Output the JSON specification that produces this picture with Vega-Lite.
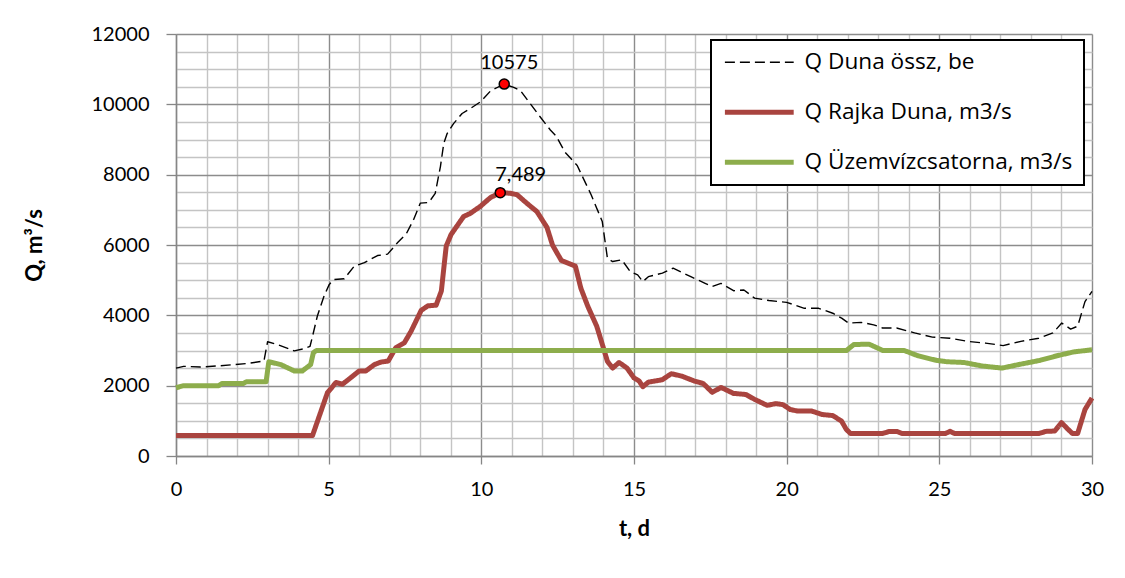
{
  "$schema": "https://vega.github.io/schema/vega-lite/v6.json",
  "width": 916,
  "height": 422,
  "autosize": "none",
  "padding": {"left": 176, "top": 34, "right": 33, "bottom": 122},
  "background": "white",
  "config": {
    "view": {"stroke": null},
    "font": "Lato",
    "legend": {"strokeWidth": 2}
  },
  "datasets": {
    "lines": [
      {"t": 0, "q": 2500, "s": "Q Duna össz, be"},
      {"t": 0.25, "q": 2550, "s": "Q Duna össz, be"},
      {"t": 0.8, "q": 2530, "s": "Q Duna össz, be"},
      {"t": 1.35, "q": 2560, "s": "Q Duna össz, be"},
      {"t": 1.9, "q": 2600, "s": "Q Duna össz, be"},
      {"t": 2.33, "q": 2630, "s": "Q Duna össz, be"},
      {"t": 2.88, "q": 2700, "s": "Q Duna össz, be"},
      {"t": 3.0, "q": 3250, "s": "Q Duna össz, be"},
      {"t": 3.32, "q": 3170, "s": "Q Duna össz, be"},
      {"t": 3.87, "q": 2990, "s": "Q Duna össz, be"},
      {"t": 4.19, "q": 3050, "s": "Q Duna össz, be"},
      {"t": 4.39, "q": 3120, "s": "Q Duna össz, be"},
      {"t": 4.47, "q": 3400, "s": "Q Duna össz, be"},
      {"t": 4.63, "q": 3980, "s": "Q Duna össz, be"},
      {"t": 4.85, "q": 4550, "s": "Q Duna össz, be"},
      {"t": 5.02, "q": 4880, "s": "Q Duna össz, be"},
      {"t": 5.18, "q": 5020, "s": "Q Duna össz, be"},
      {"t": 5.51, "q": 5040, "s": "Q Duna össz, be"},
      {"t": 5.84, "q": 5400, "s": "Q Duna össz, be"},
      {"t": 6.17, "q": 5500, "s": "Q Duna össz, be"},
      {"t": 6.6, "q": 5700, "s": "Q Duna össz, be"},
      {"t": 6.93, "q": 5740, "s": "Q Duna össz, be"},
      {"t": 7.26, "q": 6070, "s": "Q Duna össz, be"},
      {"t": 7.55, "q": 6330, "s": "Q Duna össz, be"},
      {"t": 7.78, "q": 6720, "s": "Q Duna össz, be"},
      {"t": 8.0, "q": 7190, "s": "Q Duna össz, be"},
      {"t": 8.28, "q": 7210, "s": "Q Duna össz, be"},
      {"t": 8.49, "q": 7470, "s": "Q Duna össz, be"},
      {"t": 8.66, "q": 8230, "s": "Q Duna össz, be"},
      {"t": 8.77, "q": 8890, "s": "Q Duna össz, be"},
      {"t": 8.88, "q": 9170, "s": "Q Duna össz, be"},
      {"t": 9.09, "q": 9450, "s": "Q Duna össz, be"},
      {"t": 9.37, "q": 9740, "s": "Q Duna össz, be"},
      {"t": 9.64, "q": 9880, "s": "Q Duna össz, be"},
      {"t": 9.97, "q": 10070, "s": "Q Duna össz, be"},
      {"t": 10.3, "q": 10380, "s": "Q Duna össz, be"},
      {"t": 10.57, "q": 10500, "s": "Q Duna össz, be"},
      {"t": 10.75, "q": 10575, "s": "Q Duna össz, be"},
      {"t": 11.06, "q": 10480, "s": "Q Duna össz, be"},
      {"t": 11.28, "q": 10390, "s": "Q Duna össz, be"},
      {"t": 11.6, "q": 10020, "s": "Q Duna össz, be"},
      {"t": 11.93, "q": 9640, "s": "Q Duna össz, be"},
      {"t": 12.26, "q": 9270, "s": "Q Duna össz, be"},
      {"t": 12.45, "q": 9100, "s": "Q Duna össz, be"},
      {"t": 12.74, "q": 8640, "s": "Q Duna össz, be"},
      {"t": 13.14, "q": 8260, "s": "Q Duna össz, be"},
      {"t": 13.6, "q": 7420, "s": "Q Duna össz, be"},
      {"t": 13.96, "q": 6670, "s": "Q Duna össz, be"},
      {"t": 14.13, "q": 5620, "s": "Q Duna össz, be"},
      {"t": 14.3, "q": 5530, "s": "Q Duna össz, be"},
      {"t": 14.6, "q": 5580, "s": "Q Duna össz, be"},
      {"t": 14.88, "q": 5240, "s": "Q Duna össz, be"},
      {"t": 15.12, "q": 5150, "s": "Q Duna össz, be"},
      {"t": 15.29, "q": 4960, "s": "Q Duna össz, be"},
      {"t": 15.47, "q": 5100, "s": "Q Duna össz, be"},
      {"t": 15.93, "q": 5200, "s": "Q Duna össz, be"},
      {"t": 16.28, "q": 5340, "s": "Q Duna össz, be"},
      {"t": 16.86, "q": 5100, "s": "Q Duna össz, be"},
      {"t": 17.33, "q": 4910, "s": "Q Duna össz, be"},
      {"t": 17.56, "q": 4820, "s": "Q Duna össz, be"},
      {"t": 17.85, "q": 4910, "s": "Q Duna össz, be"},
      {"t": 18.26, "q": 4700, "s": "Q Duna össz, be"},
      {"t": 18.6, "q": 4720, "s": "Q Duna össz, be"},
      {"t": 18.95, "q": 4490, "s": "Q Duna össz, be"},
      {"t": 19.42, "q": 4420, "s": "Q Duna össz, be"},
      {"t": 20.0, "q": 4370, "s": "Q Duna össz, be"},
      {"t": 20.58, "q": 4200, "s": "Q Duna össz, be"},
      {"t": 21.05, "q": 4200, "s": "Q Duna össz, be"},
      {"t": 21.51, "q": 4060, "s": "Q Duna össz, be"},
      {"t": 21.8, "q": 3920, "s": "Q Duna össz, be"},
      {"t": 22.03, "q": 3780, "s": "Q Duna össz, be"},
      {"t": 22.44, "q": 3800, "s": "Q Duna össz, be"},
      {"t": 22.85, "q": 3730, "s": "Q Duna össz, be"},
      {"t": 23.14, "q": 3640, "s": "Q Duna össz, be"},
      {"t": 23.6, "q": 3640, "s": "Q Duna össz, be"},
      {"t": 24.19, "q": 3500, "s": "Q Duna össz, be"},
      {"t": 24.77, "q": 3380, "s": "Q Duna össz, be"},
      {"t": 25.35, "q": 3350, "s": "Q Duna össz, be"},
      {"t": 25.93, "q": 3260, "s": "Q Duna össz, be"},
      {"t": 26.51, "q": 3210, "s": "Q Duna össz, be"},
      {"t": 27.09, "q": 3140, "s": "Q Duna össz, be"},
      {"t": 27.67, "q": 3260, "s": "Q Duna össz, be"},
      {"t": 28.26, "q": 3350, "s": "Q Duna össz, be"},
      {"t": 28.72, "q": 3500, "s": "Q Duna össz, be"},
      {"t": 29.01, "q": 3780, "s": "Q Duna össz, be"},
      {"t": 29.3, "q": 3610, "s": "Q Duna össz, be"},
      {"t": 29.53, "q": 3690, "s": "Q Duna össz, be"},
      {"t": 29.77, "q": 4390, "s": "Q Duna össz, be"},
      {"t": 30.0, "q": 4680, "s": "Q Duna össz, be"},

      {"t": 0, "q": 580, "s": "Q Rajka Duna, m3/s"},
      {"t": 4.47, "q": 580, "s": "Q Rajka Duna, m3/s"},
      {"t": 4.96, "q": 1800, "s": "Q Rajka Duna, m3/s"},
      {"t": 5.24, "q": 2090, "s": "Q Rajka Duna, m3/s"},
      {"t": 5.45, "q": 2040, "s": "Q Rajka Duna, m3/s"},
      {"t": 5.73, "q": 2230, "s": "Q Rajka Duna, m3/s"},
      {"t": 6.0, "q": 2420, "s": "Q Rajka Duna, m3/s"},
      {"t": 6.22, "q": 2420, "s": "Q Rajka Duna, m3/s"},
      {"t": 6.5, "q": 2600, "s": "Q Rajka Duna, m3/s"},
      {"t": 6.71, "q": 2670, "s": "Q Rajka Duna, m3/s"},
      {"t": 6.95, "q": 2700, "s": "Q Rajka Duna, m3/s"},
      {"t": 7.2, "q": 3080, "s": "Q Rajka Duna, m3/s"},
      {"t": 7.48, "q": 3220, "s": "Q Rajka Duna, m3/s"},
      {"t": 7.7, "q": 3550, "s": "Q Rajka Duna, m3/s"},
      {"t": 8.03, "q": 4140, "s": "Q Rajka Duna, m3/s"},
      {"t": 8.25, "q": 4270, "s": "Q Rajka Duna, m3/s"},
      {"t": 8.52, "q": 4290, "s": "Q Rajka Duna, m3/s"},
      {"t": 8.69, "q": 4690, "s": "Q Rajka Duna, m3/s"},
      {"t": 8.85, "q": 5970, "s": "Q Rajka Duna, m3/s"},
      {"t": 9.01, "q": 6300, "s": "Q Rajka Duna, m3/s"},
      {"t": 9.42, "q": 6810, "s": "Q Rajka Duna, m3/s"},
      {"t": 9.64, "q": 6900, "s": "Q Rajka Duna, m3/s"},
      {"t": 9.97, "q": 7100, "s": "Q Rajka Duna, m3/s"},
      {"t": 10.3, "q": 7350, "s": "Q Rajka Duna, m3/s"},
      {"t": 10.62, "q": 7489, "s": "Q Rajka Duna, m3/s"},
      {"t": 10.95, "q": 7470, "s": "Q Rajka Duna, m3/s"},
      {"t": 11.17, "q": 7430, "s": "Q Rajka Duna, m3/s"},
      {"t": 11.5, "q": 7180, "s": "Q Rajka Duna, m3/s"},
      {"t": 11.82, "q": 6950, "s": "Q Rajka Duna, m3/s"},
      {"t": 12.15, "q": 6500, "s": "Q Rajka Duna, m3/s"},
      {"t": 12.33, "q": 6000, "s": "Q Rajka Duna, m3/s"},
      {"t": 12.62, "q": 5560, "s": "Q Rajka Duna, m3/s"},
      {"t": 13.08, "q": 5400, "s": "Q Rajka Duna, m3/s"},
      {"t": 13.26, "q": 4770, "s": "Q Rajka Duna, m3/s"},
      {"t": 13.49, "q": 4250, "s": "Q Rajka Duna, m3/s"},
      {"t": 13.78, "q": 3690, "s": "Q Rajka Duna, m3/s"},
      {"t": 13.95, "q": 3210, "s": "Q Rajka Duna, m3/s"},
      {"t": 14.13, "q": 2690, "s": "Q Rajka Duna, m3/s"},
      {"t": 14.3, "q": 2500, "s": "Q Rajka Duna, m3/s"},
      {"t": 14.51, "q": 2660, "s": "Q Rajka Duna, m3/s"},
      {"t": 14.77, "q": 2500, "s": "Q Rajka Duna, m3/s"},
      {"t": 15.0, "q": 2220, "s": "Q Rajka Duna, m3/s"},
      {"t": 15.17, "q": 2130, "s": "Q Rajka Duna, m3/s"},
      {"t": 15.29, "q": 1970, "s": "Q Rajka Duna, m3/s"},
      {"t": 15.47, "q": 2100, "s": "Q Rajka Duna, m3/s"},
      {"t": 15.93, "q": 2170, "s": "Q Rajka Duna, m3/s"},
      {"t": 16.22, "q": 2340, "s": "Q Rajka Duna, m3/s"},
      {"t": 16.57, "q": 2270, "s": "Q Rajka Duna, m3/s"},
      {"t": 16.98, "q": 2130, "s": "Q Rajka Duna, m3/s"},
      {"t": 17.27, "q": 2060, "s": "Q Rajka Duna, m3/s"},
      {"t": 17.56, "q": 1810, "s": "Q Rajka Duna, m3/s"},
      {"t": 17.85, "q": 1950, "s": "Q Rajka Duna, m3/s"},
      {"t": 18.26, "q": 1780, "s": "Q Rajka Duna, m3/s"},
      {"t": 18.66, "q": 1750, "s": "Q Rajka Duna, m3/s"},
      {"t": 18.95, "q": 1610, "s": "Q Rajka Duna, m3/s"},
      {"t": 19.36, "q": 1440, "s": "Q Rajka Duna, m3/s"},
      {"t": 19.65, "q": 1490, "s": "Q Rajka Duna, m3/s"},
      {"t": 19.88, "q": 1460, "s": "Q Rajka Duna, m3/s"},
      {"t": 20.12, "q": 1320, "s": "Q Rajka Duna, m3/s"},
      {"t": 20.35, "q": 1280, "s": "Q Rajka Duna, m3/s"},
      {"t": 20.81, "q": 1280, "s": "Q Rajka Duna, m3/s"},
      {"t": 21.16, "q": 1180, "s": "Q Rajka Duna, m3/s"},
      {"t": 21.51, "q": 1150, "s": "Q Rajka Duna, m3/s"},
      {"t": 21.8, "q": 990, "s": "Q Rajka Duna, m3/s"},
      {"t": 21.95, "q": 760, "s": "Q Rajka Duna, m3/s"},
      {"t": 22.09, "q": 640, "s": "Q Rajka Duna, m3/s"},
      {"t": 23.14, "q": 640, "s": "Q Rajka Duna, m3/s"},
      {"t": 23.37, "q": 700, "s": "Q Rajka Duna, m3/s"},
      {"t": 23.6, "q": 700, "s": "Q Rajka Duna, m3/s"},
      {"t": 23.78, "q": 640, "s": "Q Rajka Duna, m3/s"},
      {"t": 25.2, "q": 640, "s": "Q Rajka Duna, m3/s"},
      {"t": 25.35, "q": 700, "s": "Q Rajka Duna, m3/s"},
      {"t": 25.5, "q": 640, "s": "Q Rajka Duna, m3/s"},
      {"t": 28.26, "q": 640, "s": "Q Rajka Duna, m3/s"},
      {"t": 28.49, "q": 700, "s": "Q Rajka Duna, m3/s"},
      {"t": 28.78, "q": 710, "s": "Q Rajka Duna, m3/s"},
      {"t": 29.0, "q": 950, "s": "Q Rajka Duna, m3/s"},
      {"t": 29.19, "q": 780, "s": "Q Rajka Duna, m3/s"},
      {"t": 29.36, "q": 640, "s": "Q Rajka Duna, m3/s"},
      {"t": 29.53, "q": 640, "s": "Q Rajka Duna, m3/s"},
      {"t": 29.77, "q": 1320, "s": "Q Rajka Duna, m3/s"},
      {"t": 30.0, "q": 1650, "s": "Q Rajka Duna, m3/s"},

      {"t": 0, "q": 1940, "s": "Q Üzemvízcsatorna, m3/s"},
      {"t": 0.25, "q": 2000, "s": "Q Üzemvízcsatorna, m3/s"},
      {"t": 1.4, "q": 2000, "s": "Q Üzemvízcsatorna, m3/s"},
      {"t": 1.5, "q": 2060, "s": "Q Üzemvízcsatorna, m3/s"},
      {"t": 2.2, "q": 2060, "s": "Q Üzemvízcsatorna, m3/s"},
      {"t": 2.3, "q": 2110, "s": "Q Üzemvízcsatorna, m3/s"},
      {"t": 2.95, "q": 2110, "s": "Q Üzemvízcsatorna, m3/s"},
      {"t": 3.04, "q": 2680, "s": "Q Üzemvízcsatorna, m3/s"},
      {"t": 3.43, "q": 2600, "s": "Q Üzemvízcsatorna, m3/s"},
      {"t": 3.87, "q": 2420, "s": "Q Üzemvízcsatorna, m3/s"},
      {"t": 4.14, "q": 2420, "s": "Q Üzemvízcsatorna, m3/s"},
      {"t": 4.41, "q": 2600, "s": "Q Üzemvízcsatorna, m3/s"},
      {"t": 4.5, "q": 2940, "s": "Q Üzemvízcsatorna, m3/s"},
      {"t": 4.6, "q": 3000, "s": "Q Üzemvízcsatorna, m3/s"},
      {"t": 21.96, "q": 3000, "s": "Q Üzemvízcsatorna, m3/s"},
      {"t": 22.2, "q": 3170, "s": "Q Üzemvízcsatorna, m3/s"},
      {"t": 22.7, "q": 3180, "s": "Q Üzemvízcsatorna, m3/s"},
      {"t": 23.15, "q": 3000, "s": "Q Üzemvízcsatorna, m3/s"},
      {"t": 23.85, "q": 3000, "s": "Q Üzemvízcsatorna, m3/s"},
      {"t": 24.3, "q": 2850, "s": "Q Üzemvízcsatorna, m3/s"},
      {"t": 24.9, "q": 2720, "s": "Q Üzemvízcsatorna, m3/s"},
      {"t": 25.25, "q": 2680, "s": "Q Üzemvízcsatorna, m3/s"},
      {"t": 25.8, "q": 2660, "s": "Q Üzemvízcsatorna, m3/s"},
      {"t": 26.4, "q": 2560, "s": "Q Üzemvízcsatorna, m3/s"},
      {"t": 27.05, "q": 2500, "s": "Q Üzemvízcsatorna, m3/s"},
      {"t": 27.6, "q": 2600, "s": "Q Üzemvízcsatorna, m3/s"},
      {"t": 28.3, "q": 2720, "s": "Q Üzemvízcsatorna, m3/s"},
      {"t": 28.85, "q": 2850, "s": "Q Üzemvízcsatorna, m3/s"},
      {"t": 29.4, "q": 2960, "s": "Q Üzemvízcsatorna, m3/s"},
      {"t": 30.0, "q": 3020, "s": "Q Üzemvízcsatorna, m3/s"}
    ],
    "peaks": [
      {"t": 10.75, "q": 10575, "label": "10575"},
      {"t": 10.62, "q": 7489, "label": "7,489"}
    ]
  },
  "encoding": {
    "x": {
      "field": "t", "type": "quantitative",
      "scale": {"domain": [0, 30], "nice": false, "zero": false},
      "axis": {
        "values": [0,1,2,3,4,5,6,7,8,9,10,11,12,13,14,15,16,17,18,19,20,21,22,23,24,25,26,27,28,29,30],
        "labelExpr": "datum.value % 5 === 0 ? datum.label : ''",
        "labelFlush": false, "labelOverlap": false,
        "labelFont": "Lato", "labelFontSize": 20, "labelColor": "#000000", "labelPadding": 15,
        "tickSize": 8, "tickColor": "#868686", "tickWidth": 1.3,
        "tickOpacity": {"condition": {"test": "datum.value % 5 === 0", "value": 1}, "value": 0},
        "grid": true,
        "gridColor": {"condition": {"test": "datum.value % 5 === 0", "value": "#8c8c8c"}, "value": "#c4c4c4"},
        "gridWidth": 1.4,
        "domainColor": "#868686", "domainWidth": 1.4,
        "title": "t, d", "titleFont": "Lato", "titleFontSize": 22, "titleFontWeight": "bold",
        "titleColor": "#000000", "titlePadding": 19
      }
    },
    "y": {
      "field": "q", "type": "quantitative",
      "scale": {"domain": [0, 12000], "nice": false},
      "axis": {
        "values": [0,500,1000,1500,2000,2500,3000,3500,4000,4500,5000,5500,6000,6500,7000,7500,8000,8500,9000,9500,10000,10500,11000,11500,12000],
        "format": "d",
        "labelExpr": "datum.value % 2000 === 0 ? datum.label : ''",
        "labelFlush": false, "labelOverlap": false,
        "labelFont": "Lato", "labelFontSize": 20, "labelColor": "#000000", "labelPadding": 17,
        "tickSize": 10, "tickColor": "#868686", "tickWidth": 1.3,
        "tickOpacity": {"condition": {"test": "datum.value % 2000 === 0", "value": 1}, "value": 0},
        "grid": true,
        "gridColor": {"condition": {"test": "datum.value % 2000 === 0", "value": "#8c8c8c"}, "value": "#c4c4c4"},
        "gridWidth": 1.4,
        "domainColor": "#868686", "domainWidth": 1.4,
        "title": "Q, m³/s", "titleFont": "Lato", "titleFontSize": 22, "titleFontWeight": "bold",
        "titleColor": "#000000", "titlePadding": 45
      }
    }
  },
  "layer": [
    {
      "data": {"name": "lines"},
      "mark": {"type": "line", "strokeJoin": "round", "strokeCap": "butt"},
      "encoding": {
        "color": {
          "field": "s", "type": "nominal",
          "scale": {
            "domain": ["Q Duna össz, be", "Q Rajka Duna, m3/s", "Q Üzemvízcsatorna, m3/s"],
            "range": ["#000000", "#A9443F", "#8DAD4C"]
          },
          "legend": {
            "orient": "none", "legendX": 535, "legendY": 6,
            "title": null,
            "strokeColor": "#000000",
            "fillColor": "#ffffff",
            "padding": 11,
            "symbolType": "M-4.3,0H4.3",
            "symbolSize": 256,
            "symbolOffset": 26,
            "labelOffset": 34,
            "labelFont": "Open Sans", "labelFontSize": 22.6, "labelColor": "#000000",
            "labelLimit": 400,
            "rowPadding": 27
          }
        },
        "strokeDash": {
          "field": "s", "type": "nominal",
          "scale": {
            "type": "ordinal",
            "domain": ["Q Duna össz, be", "Q Rajka Duna, m3/s", "Q Üzemvízcsatorna, m3/s"],
            "range": [[10, 5], [1, 0], [1, 0]]
          }
        },
        "strokeWidth": {
          "field": "s", "type": "nominal",
          "scale": {
            "type": "ordinal",
            "domain": ["Q Duna össz, be", "Q Rajka Duna, m3/s", "Q Üzemvízcsatorna, m3/s"],
            "range": [1.4, 5, 5]
          }
        }
      }
    },
    {
      "data": {"name": "peaks"},
      "mark": {"type": "point", "filled": true, "fill": "#ff0000", "stroke": "#000000", "strokeWidth": 1.5, "size": 100, "opacity": 1}
    },
    {
      "data": {"name": "peaks"},
      "transform": [{"filter": "datum.q > 10000"}],
      "mark": {"type": "text", "font": "Lato", "fontSize": 20, "color": "#000000", "align": "center", "baseline": "alphabetic", "dy": -15, "dx": 5},
      "encoding": {
        "text": {"field": "label"}
      }
    },
    {
      "data": {"name": "peaks"},
      "transform": [{"filter": "datum.q < 10000"}],
      "mark": {"type": "text", "font": "Lato", "fontSize": 20, "color": "#000000", "align": "left", "baseline": "alphabetic", "dy": -12, "dx": -5},
      "encoding": {
        "text": {"field": "label"}
      }
    }
  ]
}
